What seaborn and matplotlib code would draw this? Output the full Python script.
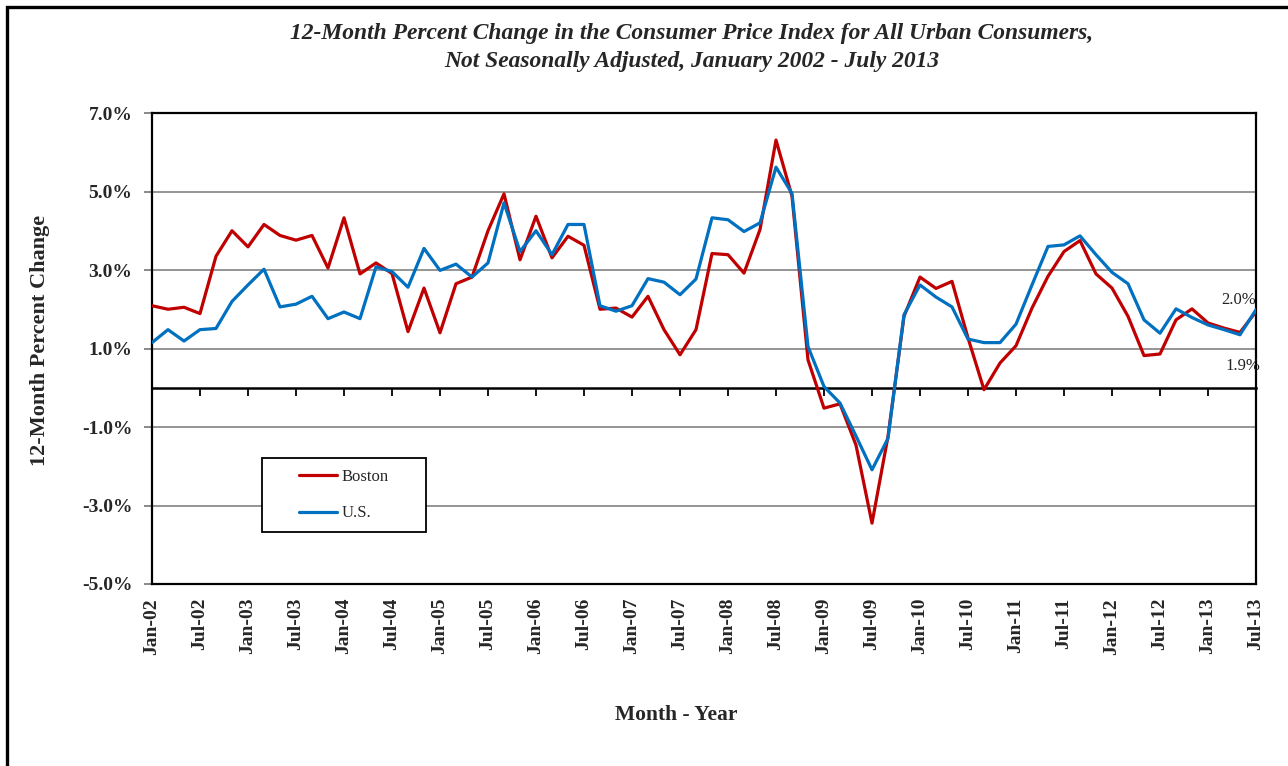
import matplotlib
matplotlib.use("Agg")
import matplotlib.pyplot as plt
from matplotlib.patches import Rectangle
from matplotlib.ticker import FuncFormatter
import seaborn as sns
import pandas as pd
import numpy as np

# bimonthly readings, Jan-02 .. Jul-13
boston = [
    2.09, 2.00, 2.05, 1.89, 3.35, 4.00,
    3.59, 4.16, 3.88, 3.76, 3.88, 3.05,
    4.33, 2.90, 3.18, 2.91, 1.43, 2.54,
    1.40, 2.65, 2.82, 4.00, 4.94, 3.26,
    4.37, 3.31, 3.86, 3.63, 2.00, 2.03,
    1.80, 2.33, 1.48, 0.84, 1.48, 3.42,
    3.39, 2.92, 4.03, 6.31, 4.88, 0.71,
    -0.52, -0.41, -1.46, -3.45, -1.24, 1.82,
    2.82, 2.53, 2.71, 1.27, -0.05, 0.63,
    1.07, 2.03, 2.84, 3.47, 3.75, 2.90,
    2.54, 1.82, 0.82, 0.86, 1.73, 2.01,
    1.65, 1.52, 1.41, 1.94,
]
us = [
    1.15, 1.48, 1.19, 1.48, 1.51, 2.20,
    2.62, 3.02, 2.06, 2.13, 2.33, 1.76,
    1.93, 1.76, 3.08, 2.96, 2.56, 3.55,
    2.99, 3.15, 2.82, 3.18, 4.71, 3.47,
    4.00, 3.39, 4.16, 4.16, 2.09, 1.95,
    2.09, 2.78, 2.69, 2.37, 2.77, 4.33,
    4.28, 3.98, 4.20, 5.62, 4.95, 1.05,
    0.03, -0.39, -1.23, -2.09, -1.29, 1.86,
    2.62, 2.31, 2.06, 1.24, 1.15, 1.15,
    1.62, 2.62, 3.60, 3.64, 3.87, 3.39,
    2.94, 2.65, 1.73, 1.39, 2.01, 1.79,
    1.60, 1.48, 1.35, 1.99,
]
months = list(range(0, 139, 2))  # months since Jan-02
tick_months = list(range(0, 139, 6))
tick_labels = [f"{m}-{y:02d}" for y in range(2, 14) for m in ("Jan", "Jul")]
y_ticks = [-5, -3, -1, 1, 3, 5, 7]

df = pd.DataFrame({
    "month": months * 2,
    "pct": boston + us,
    "area": ["Boston"] * len(boston) + ["U.S."] * len(us),
})

sns.set_style("white")
plt.rcParams["font.family"] = ["Liberation Serif", "DejaVu Serif"]

fig = plt.figure(figsize=(12.88, 7.66), dpi=100)
ax = fig.add_axes([152 / 1288, 1 - 584 / 766, 1104 / 1288, 471 / 766])

ax.set_ylim(-5, 7)
ax.set_xlim(0, 138)
ax.set_yticks(y_ticks)
ax.yaxis.set_major_formatter(FuncFormatter(lambda v, p: f"{v:.1f}%"))
ax.grid(axis="y", color="#8c8c8c", lw=1.3)
ax.set_axisbelow(True)

_ = sns.lineplot(data=df, x="month", y="pct", hue="area",
                 palette={"Boston": "#C00000", "U.S.": "#0070C0"},
                 lw=2.3, ax=ax, zorder=3)

ax.set_xticks(tick_months)
ax.set_xticklabels(tick_labels, rotation=90, fontweight="bold", fontsize=14)
ax.tick_params(axis="x", length=0, pad=10)
ax.tick_params(axis="y", length=6, color="#808080", width=1.3, pad=8, left=True)
for lab in ax.get_yticklabels():
    lab.set_fontweight("bold")
    lab.set_fontsize(14)
ax.set_xlabel("")
ax.set_ylabel("")
for s in ax.spines.values():
    s.set_color("black")
    s.set_linewidth(1.6)

# zero line carries the month ticks
zero = ax.secondary_xaxis(5 / 12)
zero.set_xticks(tick_months)
zero.set_xticklabels([])
zero.tick_params(axis="x", direction="out", length=6, width=1.3, color="black")
zero.spines["bottom"].set_linewidth(1.8)
zero.spines["bottom"].set_color("black")

ax.annotate(f"{us[-1]:.1f}%", (months[-1], us[-1]), xytext=(0, 7),
            textcoords="offset points", ha="right", va="center",
            fontsize=12, color="#222222", annotation_clip=False)
ax.annotate(f"{boston[-1]:.1f}%", (months[-1], boston[-1]), xytext=(3, -39),
            textcoords="offset points", ha="right", va="center",
            fontsize=12, color="#222222", annotation_clip=False)

# legend box drawn as a plain rectangle, entries placed inside it
ax.add_patch(Rectangle((110 / 1104, 52 / 471), 164 / 1104, 74 / 471,
                       transform=ax.transAxes, fill=True, facecolor="white",
                       edgecolor="black", lw=1.3, zorder=4))
leg = ax.legend(loc="center left", bbox_to_anchor=(147 / 1104, 89 / 471),
                fontsize=12, frameon=False, handlelength=2.3,
                borderpad=0, labelspacing=1.25, handletextpad=0.25,
                borderaxespad=0)
leg.set_zorder(5)
for h in leg.get_lines():
    h.set_linewidth(2.3)

fig.text(692 / 1288, 1 - 47.5 / 766,
         "12-Month Percent Change in the Consumer Price Index for All Urban Consumers,\n"
         "Not Seasonally Adjusted, January 2002 - July 2013",
         ha="center", va="center", fontsize=16.9, fontweight="bold",
         fontstyle="italic", linespacing=1.38)
fig.text(40 / 1288, 1 - 340 / 766, "12-Month Percent Change", rotation=90,
         ha="center", va="center", fontsize=16, fontweight="bold")
fig.text(676 / 1288, 1 - 715 / 766, "Month - Year", ha="center", va="center",
         fontsize=15.5, fontweight="bold")

fig.patches.append(Rectangle((7 / 1288, -0.1), 1.2, 1.1 - 7 / 766, fill=False,
                             lw=2.4, edgecolor="black", transform=fig.transFigure,
                             figure=fig))

plt.savefig("out.png", dpi=100)
plt.close()
